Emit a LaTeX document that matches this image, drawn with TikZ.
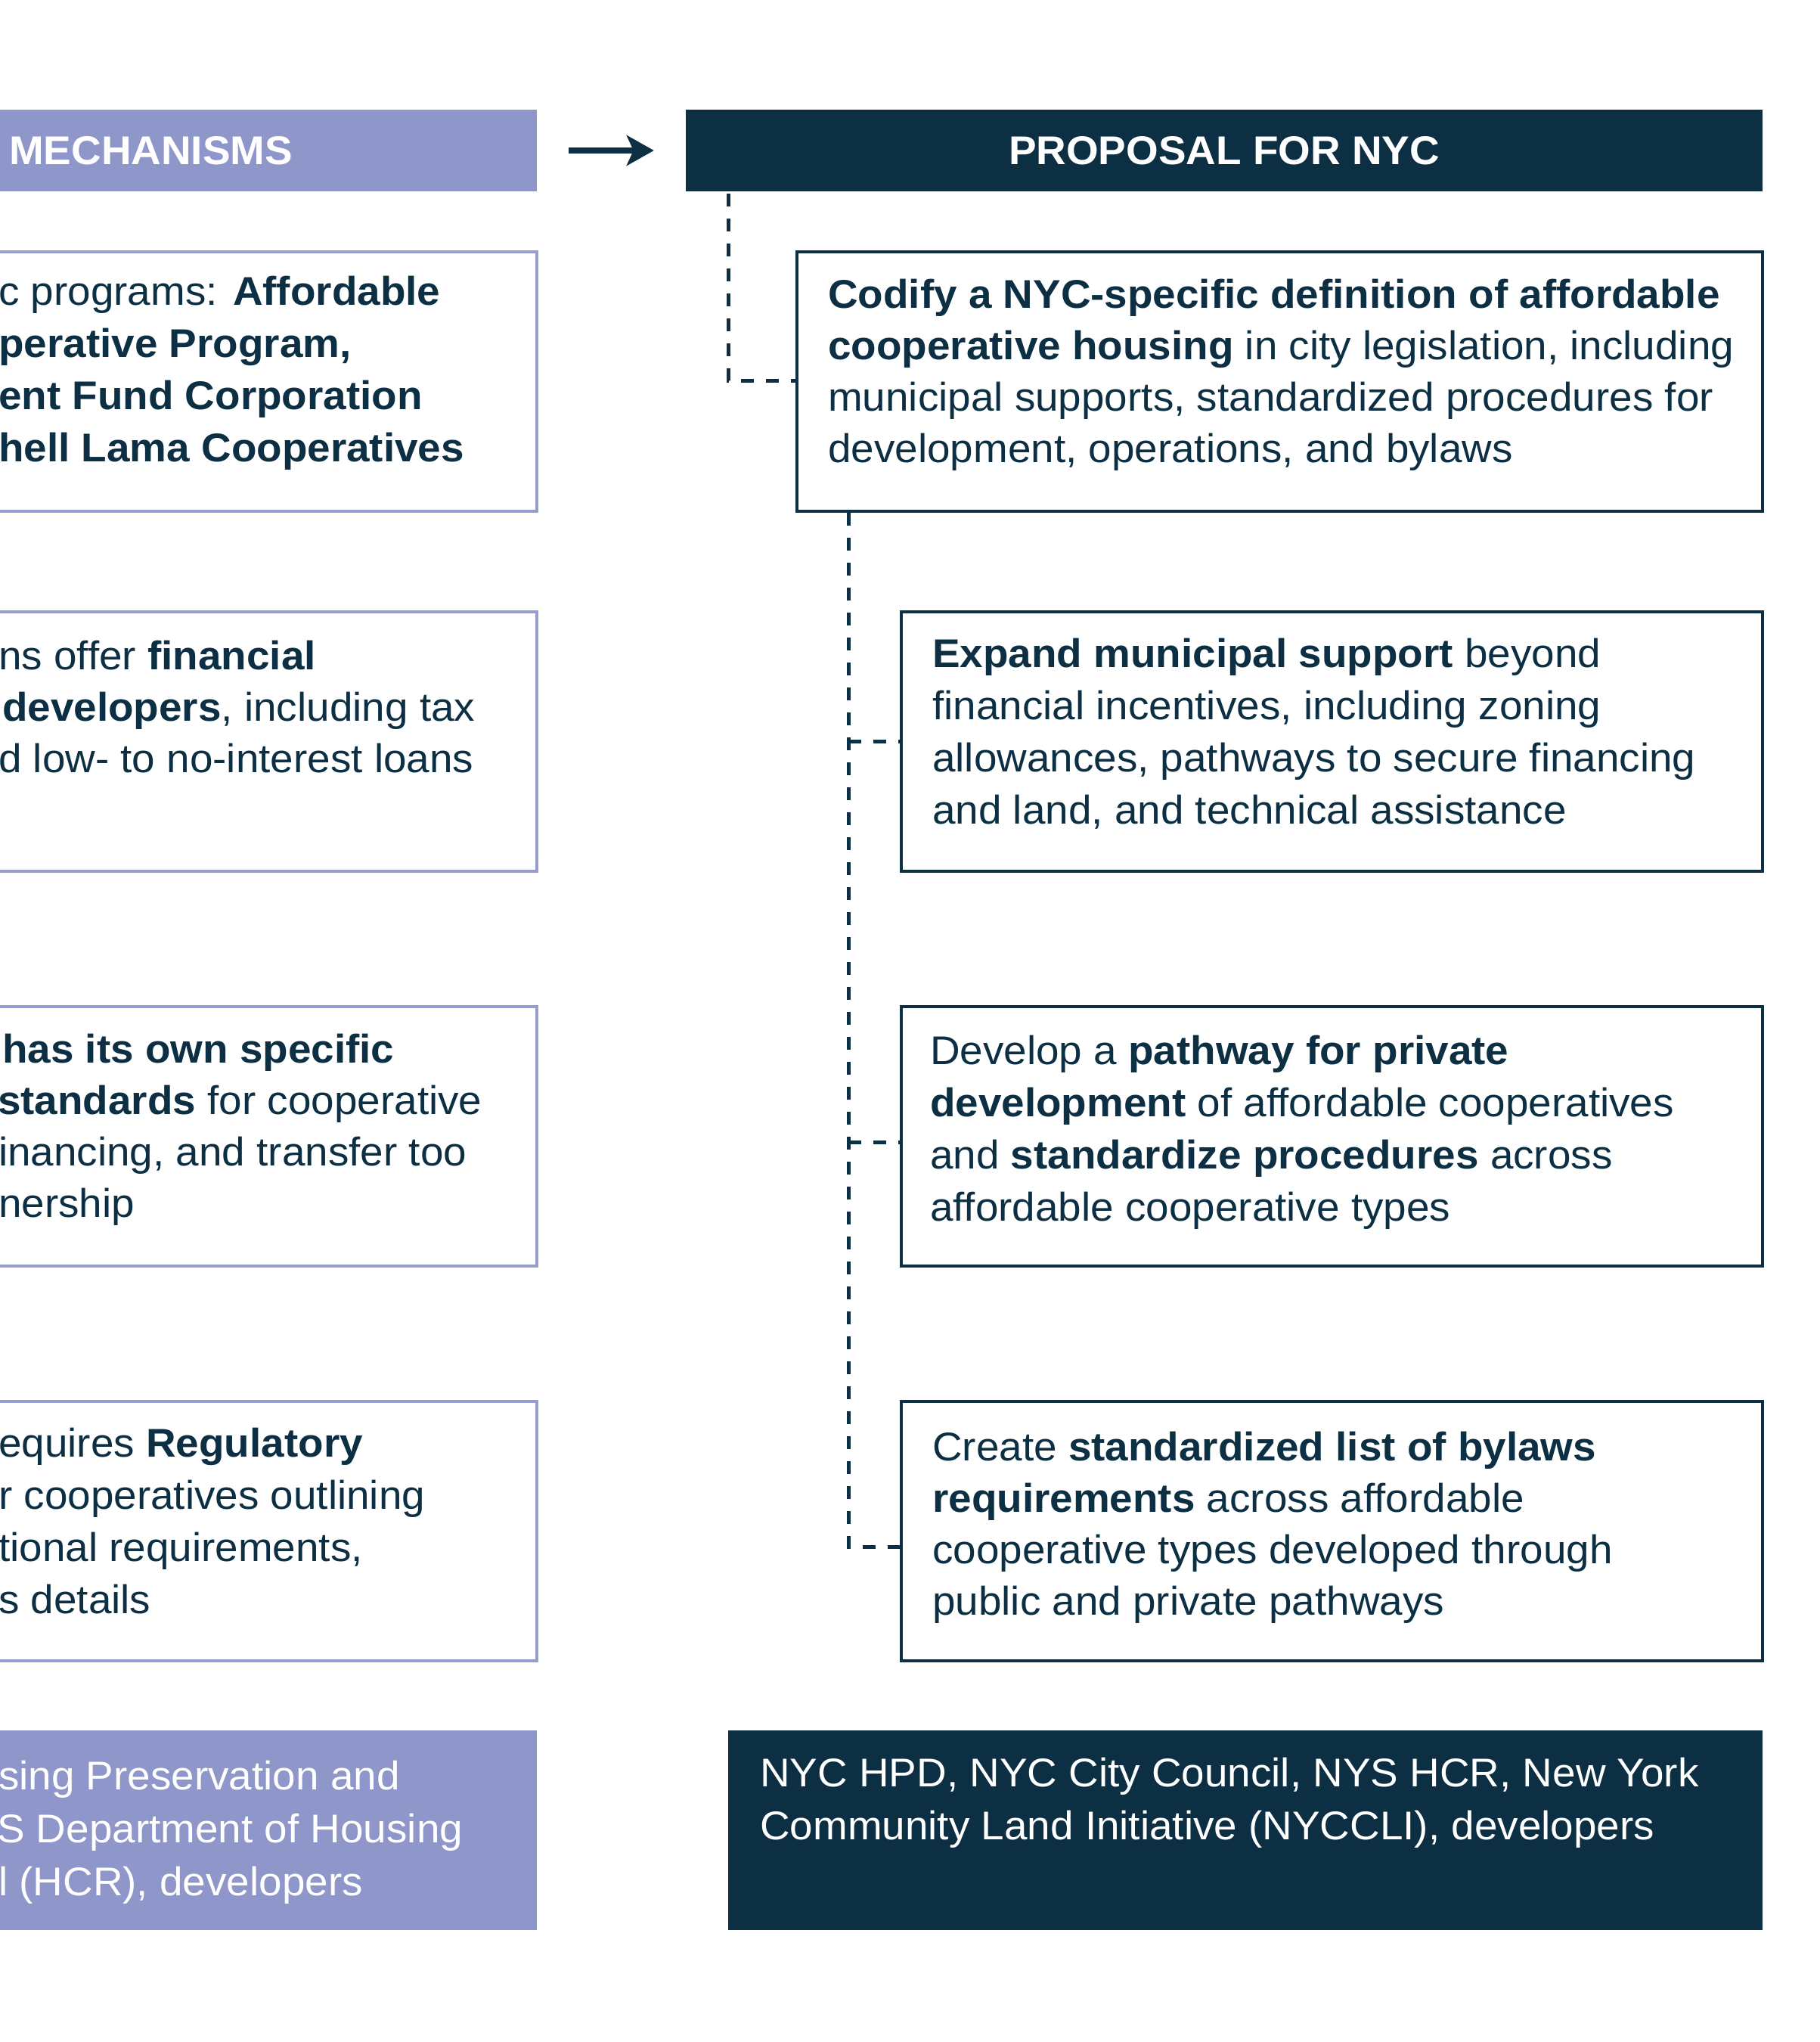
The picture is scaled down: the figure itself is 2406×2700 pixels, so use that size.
\documentclass[tikz,border=0pt]{standalone}
\usepackage{fontspec}
\setmainfont[FakeStretch=1.035]{Liberation Sans}
\usetikzlibrary{arrows.meta}
\definecolor{navy}{HTML}{0D2F43}
\definecolor{lav}{HTML}{8F96C9}
\definecolor{lavline}{HTML}{979DCE}
\newcommand\lineat[4]{\node[txt] (#1) at (#2,#3) {#4};}
\newcommand\wlineat[4]{\node[wtxt] (#1) at (#2,#3) {#4};}
\begin{document}
\begin{tikzpicture}[x=1pt,y=-1pt,
  txt/.style={anchor=base west, inner sep=0pt, font=\fontsize{53}{68}\selectfont, text=navy},
  wtxt/.style={txt, text=white},
  lavhead/.style={fill=lav, draw=none, inner sep=0pt, minimum height=108pt},
  navyhead/.style={fill=navy, draw=none, inner sep=0pt, minimum height=108pt},
  rbox/.style={draw=navy, line width=4pt, fill=white, inner sep=0pt, minimum height=343pt},
  lbox/.style={draw=lavline, line width=4pt, fill=white, inner sep=0pt, minimum height=343pt, minimum width=730pt},
  dsh/.style={draw=navy, line width=5pt, dash pattern=on 17pt off 16pt},
  mainarrow/.style={draw=navy, line width=8pt, -{Stealth[length=36pt,width=40pt,inset=9pt]}, shorten <=42pt, shorten >=42pt}
]
\useasboundingbox (0,0) rectangle (2406,2700);
\fill[white] (0,0) rectangle (2406,2700);
\begin{scope}
\clip (0,0) rectangle (2406,2700);

% headers
\node[lavhead, minimum width=730pt] (lh) at (345,199) {};
\node[navyhead, minimum width=1424pt] (rh) at (1619,199) {};
\node[anchor=base west, inner sep=0pt, font=\fontsize{53}{68}\selectfont\bfseries, text=white] (lht) at (12,218) {MECHANISMS};
\node[anchor=base, inner sep=0pt, font=\fontsize{53}{68}\selectfont\bfseries, text=white] (rht) at (1619,218) {PROPOSAL FOR NYC};
\draw[mainarrow] (lh.east) -- (rh.west);

% left boxes
\node[lbox] (lb1) at (345,504) {};
\node[lbox] (lb2) at (345,980.5) {};
\node[lbox] (lb3) at (345,1502.5) {};
\node[lbox] (lb4) at (345,2024.5) {};
\node[lavhead, minimum width=730pt, minimum height=264pt] (lbot) at (345,2420) {};

% right boxes
\node[rbox, minimum width=1277pt] (rb1) at (1692.5,504) {};
\node[rbox, minimum width=1139pt] (rb2) at (1761.5,980.5) {};
\node[rbox, minimum width=1139pt] (rb3) at (1761.5,1502.5) {};
\node[rbox, minimum width=1139pt] (rb4) at (1761.5,2024.5) {};
\node[navyhead, minimum width=1368pt, minimum height=264pt] (rbot) at (1647,2420) {};

% connectors
\coordinate (v0) at (963,256);
\coordinate (j1) at (1054,503);
\draw[dsh] (v0) |- (j1);
\coordinate (v1) at (1122,678);
\coordinate (j2) at (1192,980);
\coordinate (j3) at (1192,1510);
\coordinate (j4) at (1192,2045);
\draw[dsh] (v1) |- (j4);
\draw[dsh] (v1 |- j2) -- (j2);
\draw[dsh] (v1 |- j3) -- (j3);

% left texts
\lineat{l1a}{-2}{403}{c programs: \textbf{Affordable}}
\lineat{l1b}{-2}{472}{\textbf{perative Program,}}
\lineat{l1c}{-2}{541}{\textbf{ent Fund Corporation}}
\lineat{l1d}{-2}{610}{\textbf{hell Lama Cooperatives}}

\lineat{l2a}{-2}{885}{ns offer \textbf{financial}}
\lineat{l2b}{3}{953}{\textbf{developers}, including tax}
\lineat{l2c}{-2}{1021}{d low- to no-interest loans}

\lineat{l3a}{3}{1405}{\textbf{has its own specific}}
\lineat{l3b}{-3}{1473}{\textbf{standards} for cooperative}
\lineat{l3c}{-2}{1541}{inancing, and transfer too}
\lineat{l3d}{-2}{1609}{nership}

\lineat{l4a}{-2}{1926}{equires \textbf{Regulatory}}
\lineat{l4b}{-2}{1995}{r cooperatives outlining}
\lineat{l4c}{-2}{2064}{tional requirements,}
\lineat{l4d}{-2}{2133}{s details}

\wlineat{l5a}{-2}{2366}{sing Preservation and}
\wlineat{l5b}{-4}{2436}{S Department of Housing}
\wlineat{l5c}{-2}{2506}{l (HCR), developers}

% right texts
\lineat{r1a}{1095}{407}{\textbf{Codify a NYC-specific definition of affordable}}
\lineat{r1b}{1095}{475}{\textbf{cooperative housing} in city legislation, including}
\lineat{r1c}{1095}{543}{municipal supports, standardized procedures for}
\lineat{r1d}{1095}{611}{development, operations, and bylaws}

\lineat{r2a}{1233}{882}{\textbf{Expand municipal support} beyond}
\lineat{r2b}{1233}{951}{financial incentives, including zoning}
\lineat{r2c}{1233}{1020}{allowances, pathways to secure financing}
\lineat{r2d}{1233}{1089}{and land, and technical assistance}

\lineat{r3a}{1230}{1407}{Develop a \textbf{pathway for private}}
\lineat{r3b}{1230}{1476}{\textbf{development} of affordable cooperatives}
\lineat{r3c}{1230}{1545}{and \textbf{standardize procedures} across}
\lineat{r3d}{1230}{1614}{affordable cooperative types}

\lineat{r4a}{1233}{1931}{Create \textbf{standardized list of bylaws}}
\lineat{r4b}{1233}{1999}{\textbf{requirements} across affordable}
\lineat{r4c}{1233}{2067}{cooperative types developed through}
\lineat{r4d}{1233}{2135}{public and private pathways}

\wlineat{r5a}{1005}{2362}{NYC HPD, NYC City Council, NYS HCR, New York}
\wlineat{r5b}{1005}{2432}{Community Land Initiative (NYCCLI), developers}
\end{scope}
\end{tikzpicture}
\end{document}
